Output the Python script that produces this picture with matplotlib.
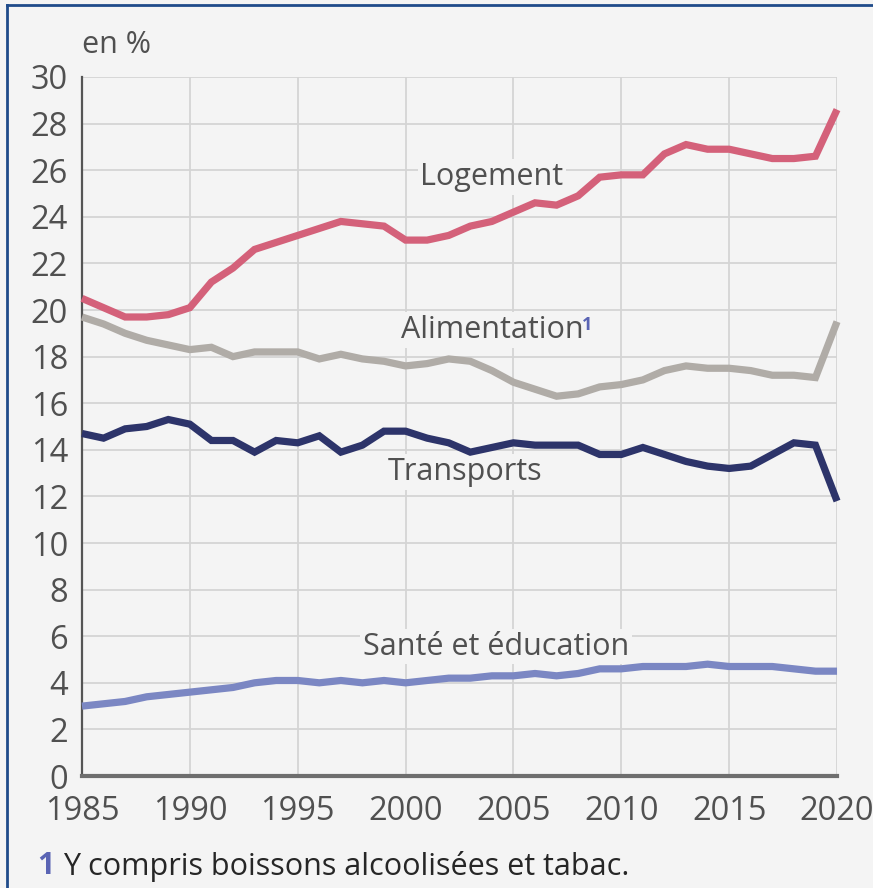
import matplotlib
matplotlib.use('Agg')
import matplotlib.pyplot as plt
from matplotlib.lines import Line2D

# ── data (share of consumption, %) ──────────────────────────────────────────
YEARS = list(range(1985, 2021))

LOGEMENT = [20.5, 20.1, 19.7, 19.7, 19.8, 20.1, 21.2, 21.8, 22.6, 22.9,
            23.2, 23.5, 23.8, 23.7, 23.6, 23.0, 23.0, 23.2, 23.6, 23.8,
            24.2, 24.6, 24.5, 24.9, 25.7, 25.8, 25.8, 26.7, 27.1, 26.9,
            26.9, 26.7, 26.5, 26.5, 26.6, 28.6]

ALIMENTATION = [19.7, 19.4, 19.0, 18.7, 18.5, 18.3, 18.4, 18.0, 18.2, 18.2,
                18.2, 17.9, 18.1, 17.9, 17.8, 17.6, 17.7, 17.9, 17.8, 17.4,
                16.9, 16.6, 16.3, 16.4, 16.7, 16.8, 17.0, 17.4, 17.6, 17.5,
                17.5, 17.4, 17.2, 17.2, 17.1, 19.5]

TRANSPORTS = [14.7, 14.5, 14.9, 15.0, 15.3, 15.1, 14.4, 14.4, 13.9, 14.4,
              14.3, 14.6, 13.9, 14.2, 14.8, 14.8, 14.5, 14.3, 13.9, 14.1,
              14.3, 14.2, 14.2, 14.2, 13.8, 13.8, 14.1, 13.8, 13.5, 13.3,
              13.2, 13.3, 13.8, 14.3, 14.2, 11.8]

SANTE = [3.0, 3.1, 3.2, 3.4, 3.5, 3.6, 3.7, 3.8, 4.0, 4.1,
         4.1, 4.0, 4.1, 4.0, 4.1, 4.0, 4.1, 4.2, 4.2, 4.3,
         4.3, 4.4, 4.3, 4.4, 4.6, 4.6, 4.7, 4.7, 4.7, 4.8,
         4.7, 4.7, 4.7, 4.6, 4.5, 4.5]

X_TICKS = [1985, 1990, 1995, 2000, 2005, 2010, 2015, 2020]
Y_TICKS = list(range(0, 31, 2))

# ── style ────────────────────────────────────────────────────────────────────
BG        = '#f4f4f4'
TEXT_COL  = '#505050'
GRID_COL  = '#d4d4d4'
PINK      = '#d4617a'
GREY      = '#b0aca7'
NAVY      = '#2d346a'
LAVENDER  = '#7b87c3'
FOOT_BLUE = '#5a64b4'

plt.rcParams['font.family'] = ['Open Sans', 'DejaVu Sans']

fig = plt.figure(figsize=(8.73, 8.88), dpi=100, facecolor=BG)
ax = fig.add_axes([0.0939, 0.1261, 0.8649, 0.7872])
ax.set_facecolor(BG)

series = [
    (LOGEMENT, PINK),
    (ALIMENTATION, GREY),
    (TRANSPORTS, NAVY),
    (SANTE, LAVENDER),
]
for vals, col in series:
    ax.plot(YEARS, vals, color=col, linewidth=5.2, solid_joinstyle='miter',
            solid_capstyle='butt', zorder=4, clip_on=False)

ax.set_xlim(1985, 2020)
ax.set_ylim(0, 30)
ax.set_xticks(X_TICKS)
ax.set_yticks(Y_TICKS)
ax.tick_params(axis='both', length=0, labelsize=23.5, colors=TEXT_COL)
ax.tick_params(axis='x', pad=14)
ax.tick_params(axis='y', pad=10)
ax.grid(True, color=GRID_COL, linewidth=1.3, zorder=0)
ax.set_axisbelow(True)

for side in ('top', 'right'):
    ax.spines[side].set_visible(False)
ax.spines['left'].set_color('#555555')
ax.spines['left'].set_linewidth(1.6)
ax.spines['bottom'].set_color('#6e6e6e')
ax.spines['bottom'].set_linewidth(3.0)

# ── series labels with background boxes hiding the grid ─────────────────────
box = dict(facecolor=BG, edgecolor='none', pad=2)
lab_kw = dict(fontsize=22, color=TEXT_COL, ha='center', va='center',
              bbox=box, zorder=3)
ax.text(2004.0, 25.7, 'Logement', **lab_kw)
t_alim = ax.text(2004.0, 19.15, 'Alimentation', **lab_kw)
ax.annotate('1', xy=(1.0, 1.0), xycoords=t_alim, xytext=(-1, -1),
            textcoords='offset points', fontsize=13, fontweight='bold',
            color=FOOT_BLUE, ha='left', va='top', zorder=5)
ax.text(2002.75, 13.05, 'Transports', **lab_kw)
ax.text(2004.2, 5.55, 'Santé et éducation', **lab_kw)

# ── unit and footnote ───────────────────────────────────────────────────────
fig.text(82 / 873, 1 - 45 / 888, 'en %', fontsize=22, color=TEXT_COL,
         ha='left', va='center')
fig.text(37 / 873, 1 - 866 / 888, '1', fontsize=22, fontweight='bold',
         color=FOOT_BLUE, ha='left', va='center')
fig.text(63 / 873, 1 - 866 / 888, 'Y compris boissons alcoolisées et tabac.',
         fontsize=22, color='#262626', ha='left', va='center')

# ── thin blue frame on the top and left edges ───────────────────────────────
fig.add_artist(Line2D([7 / 873, 1.0], [1 - 5 / 888, 1 - 5 / 888],
                      transform=fig.transFigure, color='#1f4b8a', linewidth=2))
fig.add_artist(Line2D([7 / 873, 7 / 873], [0.0, 1 - 5 / 888],
                      transform=fig.transFigure, color='#1f4b8a', linewidth=2))

fig.savefig('out.png', dpi=100, facecolor=BG)
